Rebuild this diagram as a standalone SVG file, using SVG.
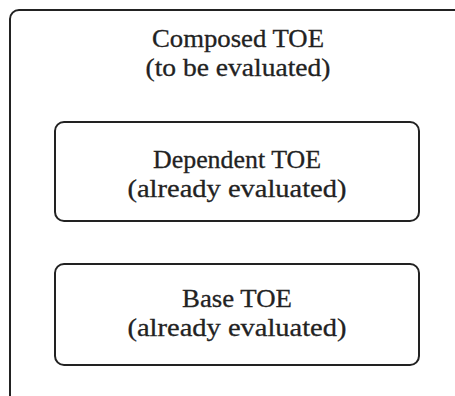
<svg xmlns="http://www.w3.org/2000/svg" width="455" height="396" viewBox="0 0 455 396">
<style>
.box{fill:none;stroke:#222;stroke-width:2}
.t{font-family:"Liberation Serif","Times New Roman",serif;font-size:26px;fill:#222;stroke:#222;stroke-width:0.3;text-anchor:middle}
</style>
<rect width="455" height="396" fill="#fff"/>
<g id="composed">
<rect class="box" x="10" y="10" width="460" height="400" rx="9"/>
<text class="t" x="238" y="47" textLength="172" lengthAdjust="spacingAndGlyphs">Composed TOE</text>
<text class="t" x="238" y="76" textLength="185" lengthAdjust="spacingAndGlyphs">(to be evaluated)</text>
</g>
<g id="dependent">
<rect class="box" x="55" y="122" width="364" height="99" rx="9"/>
<text class="t" x="237" y="168" textLength="168" lengthAdjust="spacingAndGlyphs">Dependent TOE</text>
<text class="t" x="237" y="197" textLength="219" lengthAdjust="spacingAndGlyphs">(already evaluated)</text>
</g>
<g id="base">
<rect class="box" x="55" y="264" width="364" height="101" rx="9"/>
<text class="t" x="237" y="307" textLength="110" lengthAdjust="spacingAndGlyphs">Base TOE</text>
<text class="t" x="237" y="336" textLength="219" lengthAdjust="spacingAndGlyphs">(already evaluated)</text>
</g>
<g id="connectors"/>
</svg>
